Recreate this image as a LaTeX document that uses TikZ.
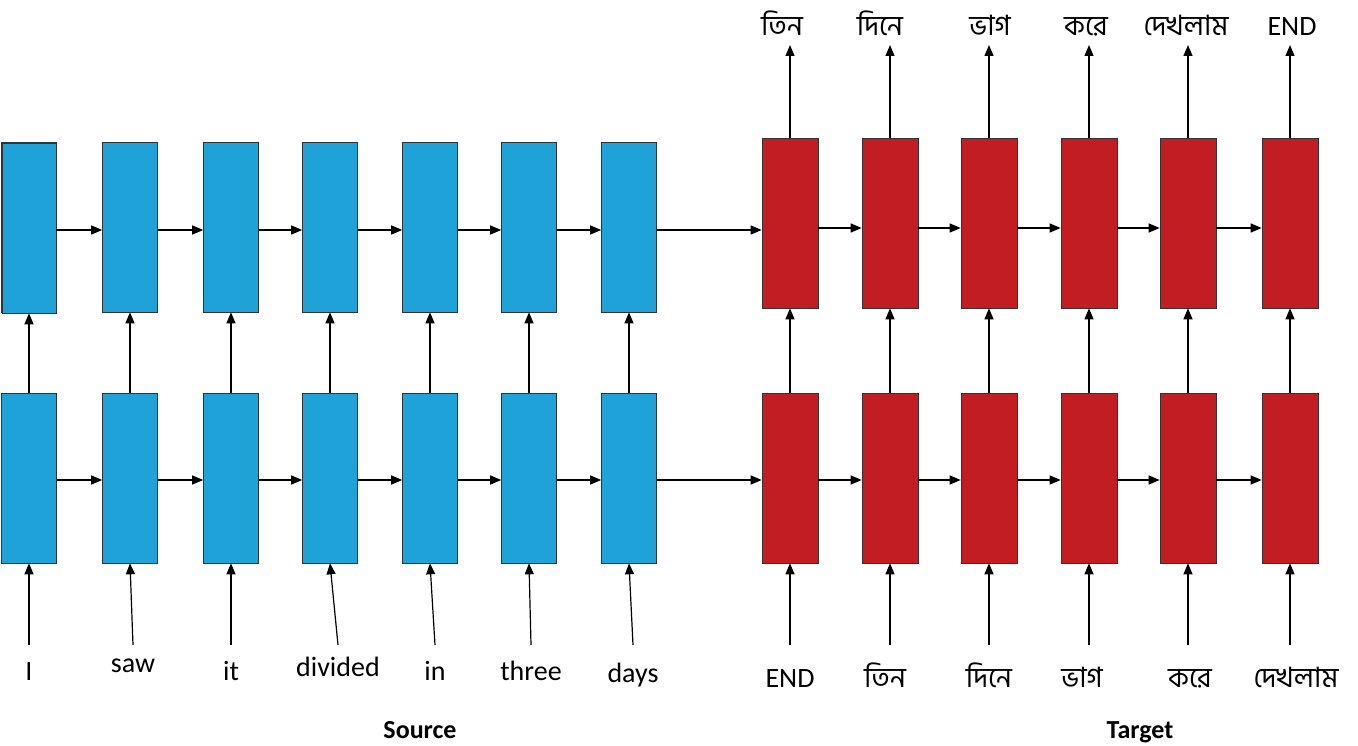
\documentclass[tikz,border=0pt]{standalone}
\usepackage{fontspec}
\setmainfont{Carlito}
\newfontfamily\bn[Script=Bengali]{Hind Siliguri}
\usetikzlibrary{arrows.meta}
\begin{document}
\begin{tikzpicture}[x=1pt,y=-1pt,
  enc/.style={draw=black!80,fill=cyan!70!blue!60!white,fill=blueb,minimum width=55pt,minimum height=170pt,inner sep=0pt,line width=0.6pt},
  dec/.style={draw=black!80,fill=redb,minimum width=56pt,minimum height=170pt,inner sep=0pt,line width=0.6pt},
  arr/.style={-{Triangle[length=11pt,width=9pt]},line width=1.2pt},
  lab/.style={font=\fontsize{28}{30}\selectfont,inner sep=0pt,anchor=base}]
\definecolor{blueb}{RGB}{30,162,216}
\definecolor{redb}{RGB}{193,29,35}
\useasboundingbox (0,0) rectangle (1358,746);
% encoder
\foreach \i/\x/\w in {1/29/I,2/130/saw,3/231/it,4/330/divided,5/430/in,6/529/three,7/629/days}{
  \node[enc] (t\i) at (\x,227) {};
  \node[enc] (b\i) at (\x,478) {};
}
\node[enc,minimum width=54pt] (t1) at (29,228) {};
\foreach \i/\x/\w/\y in {1/29/I/680,2/133/saw/672,3/231/it/680,4/338/divided/676,5/435/in/680,6/531/three/680,7/633/days/682}{
  \node[lab] (in\i) at (\x,\y) {\w};
  \coordinate (s\i) at (\x,645);
  \draw[arr] (\x,645) -- (b\i.south);
  \draw[arr] (b\i.north) -- (t\i.south);
}
% decoder
\foreach \i/\x in {1/790,2/890,3/989,4/1089,5/1188,6/1290}{
  \node[dec] (T\i) at (\x,223) {};
  \node[dec] (B\i) at (\x,478) {};
  \draw[arr] (\x,645) -- (B\i.south);
  \draw[arr] (B\i.north) -- (T\i.south);
  \draw[arr] (T\i.north) -- (\x,45);
}
\foreach \i/\x/\w in {1/790/END,2/885/{\bn তিন},3/989/{\bn দিনে},4/1082/{\bn ভাগ},5/1190/{\bn করে},6/1296/{\bn দেখলাম}}{
  \node[lab] (ib\i) at (\x,687) {\w};
}
\foreach \i/\x/\w in {1/782/{\bn তিন},2/880/{\bn দিনে},3/990/{\bn ভাগ},4/1086/{\bn করে},5/1186/{\bn দেখলাম},6/1292/END}{
  \node[lab] (ob\i) at (\x,36) {\w};
}
% horizontal
\foreach \a/\b in {1/2,2/3,3/4,4/5,5/6,6/7}{
  \draw[arr] (t\a.east|-0,230) -- (t\b.west|-0,230);
  \draw[arr] (b\a.east|-0,480) -- (b\b.west|-0,480);
}
\draw[arr] (t7.east|-0,230) -- (T1.west|-0,230);
\draw[arr] (b7.east|-0,480) -- (B1.west|-0,480);
\foreach \a/\b in {1/2,2/3,3/4,4/5,5/6}{
  \draw[arr] (T\a.east|-0,228) -- (T\b.west|-0,228);
  \draw[arr] (B\a.east|-0,480) -- (B\b.west|-0,480);
}
\node[lab,font=\bfseries\fontsize{26}{28}\selectfont] (src) at (420,738) {Source};
\node[lab,font=\bfseries\fontsize{26}{28}\selectfont] (tgt) at (1140,738) {Target};
\end{tikzpicture}
\end{document}
